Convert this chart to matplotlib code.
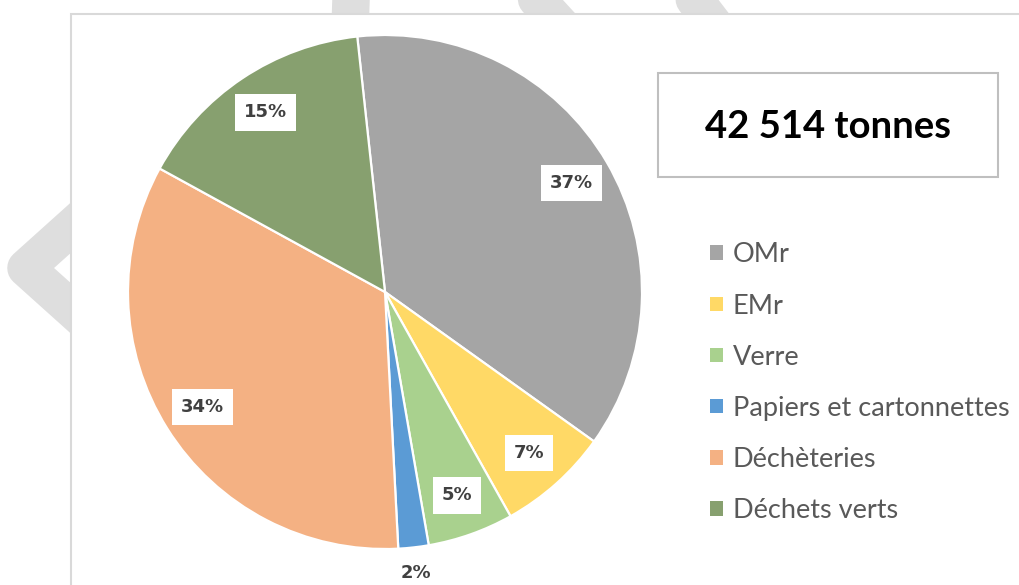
import matplotlib.pyplot as plt
import numpy as np
from matplotlib.patches import Rectangle
from matplotlib.lines import Line2D

labels = ["OMr", "EMr", "Verre", "Papiers et cartonnettes", "Déchèteries", "Déchets verts"]
shares = [36.6, 7.0, 5.4, 1.9, 33.8, 15.3]
colors = ["#a5a5a5", "#ffd966", "#a9d18e", "#5b9bd5", "#f4b183", "#87a06f"]
total_label = "42 514 tonnes"

W, H = 1020, 585
fig = plt.figure(figsize=(W / 100, H / 100), dpi=100)


def fx(px):
    return px / W


def fy(py):
    return 1 - py / H


# light watermark strokes behind the chart frame
wm = dict(color="#dedede", lw=27, solid_capstyle="round", solid_joinstyle="round",
          transform=fig.transFigure, zorder=0)
fig.add_artist(Line2D([fx(95), fx(26), fx(95)], [fy(206), fy(268), fy(330)], **wm))
fig.add_artist(Line2D([fx(352), fx(350)], [fy(-30), fy(30)], **wm))
fig.add_artist(Line2D([fx(510), fx(565)], [fy(-30), fy(30)], **wm))
fig.add_artist(Line2D([fx(672), fx(718)], [fy(-30), fy(30)], **wm))
fig.add_artist(Line2D([fx(818), fx(820)], [fy(-12), fy(-10)], **wm))

# chart frame
fig.add_artist(Rectangle((fx(71), -0.05), 1.0, fy(14) + 0.05, transform=fig.transFigure,
                         facecolor="white", edgecolor="#d9d9d9", lw=1.5, zorder=1))

# pie axes: centre (385, 292), radius 257 px
cx, cy, r = 385, 292, 257
ax = fig.add_axes([fx(cx - r), fy(cy + r), 2 * r / W, 2 * r / H])
ax.set_zorder(3)

wedges, texts, autotexts = ax.pie(
    shares, colors=colors, startangle=96.2, counterclock=False,
    autopct=lambda p: f"{p:.0f}%", pctdistance=0.84,
    wedgeprops=dict(edgecolor="white", linewidth=1.6),
    textprops=dict(fontsize=13, fontweight="bold", color="#404040"),
)
for i, t in enumerate(autotexts):
    if shares[i] < 3:
        w = wedges[i]
        ang = np.deg2rad((w.theta1 + w.theta2) / 2)
        t.set_position((1.10 * np.cos(ang), 1.10 * np.sin(ang)))
    else:
        t.set_bbox(dict(boxstyle="square,pad=0.5", facecolor="white", edgecolor="none"))
ax.set_xlim(-1, 1)
ax.set_ylim(-1, 1)
ax.set_aspect("equal")
ax.axis("off")

leg = ax.legend(wedges, labels, loc="upper left", bbox_to_anchor=(fx(686), fy(218)),
                bbox_transform=fig.transFigure, frameon=False,
                handlelength=0.45, handleheight=0.45, handletextpad=0.38,
                labelspacing=0.965, prop=dict(family="Lato", size=19.5))
for t in leg.get_texts():
    t.set_color("#595959")
for h in leg.legend_handles:
    h.set_edgecolor("none")

# total box
fig.add_artist(Rectangle((fx(658), fy(177)), fx(998) - fx(658), fy(73) - fy(177),
                         transform=fig.transFigure, facecolor="white",
                         edgecolor="#bfbfbf", lw=1.5, zorder=4))
fig.text(fx(828), fy(127), total_label, ha="center", va="center", fontsize=27.5,
         fontweight="bold", family="Lato", color="black", zorder=5)

fig.savefig("out.png", dpi=100)
